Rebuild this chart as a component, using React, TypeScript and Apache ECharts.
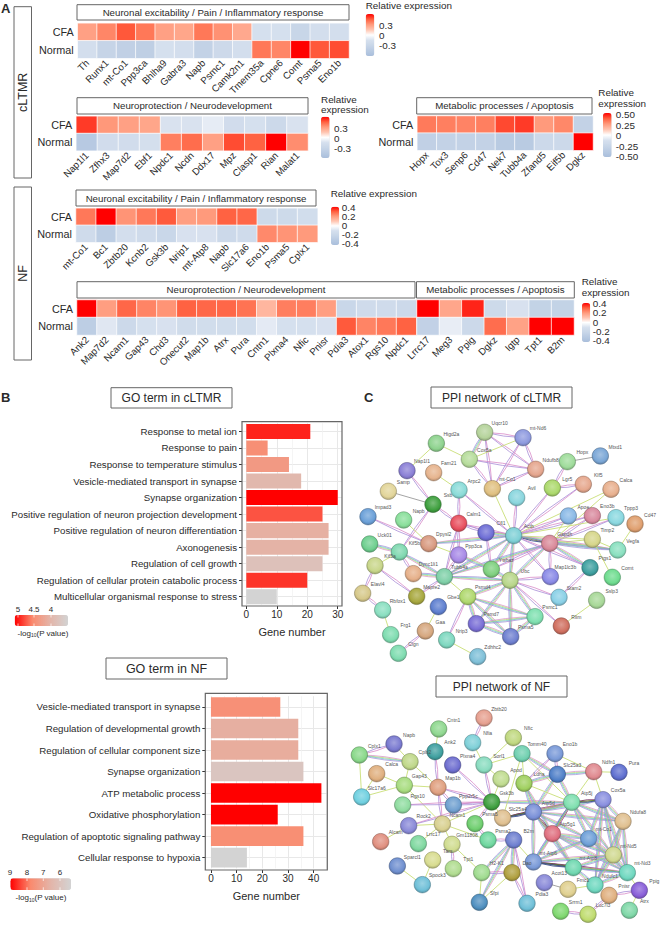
import React, { useEffect, useRef } from "react";
import * as echarts from "echarts";

const FONT = "Liberation Sans";
const INK = "#2a2a2a";

// ---------- Heatmap data ----------
const a1Genes = ["Th","Runx1","mt-Co1","Ppp3ca","Bhlha9","Gabra3","Napb","Psmc1","Camk2n1","Tmem35a","Cpne6","Comt","Psma5","Eno1b"];
const a1Cfa = [0.3,0.38,0.5,0.42,0.3,0.28,0.42,0.35,0.27,-0.17,-0.17,-0.33,-0.2,-0.2];
const a1Normal = [-0.2,-0.35,-0.4,-0.42,-0.17,-0.2,-0.38,-0.27,-0.2,0.42,0.38,0.65,0.5,0.52];

const a2Genes = ["Nap1l1","Zfhx3","Map7d2","Ebf1","Npdc1","Ncdn","Ddx17","Mpz","Clasp1","Rian","Malat1"];
const a2Cfa = [0.55,0.33,0.3,0.28,-0.15,-0.15,-0.1,-0.22,-0.17,-0.28,-0.15];
const a2Normal = [-0.5,-0.22,-0.22,-0.18,0.4,0.45,0.3,0.52,0.48,0.65,0.36];

const a3Genes = ["Hopx","Tox3","Senp6","Cd47","Nek7","Tubb4a","Zfand5","Eif5b","Dgkz"];
const a3Cfa = [0.33,0.32,0.31,0.32,0.42,0.44,0.26,0.3,-0.3];
const a3Normal = [-0.32,-0.3,-0.3,-0.3,-0.38,-0.38,-0.22,-0.22,0.52];

const n1Genes = ["mt-Co1","Bc1","Zbtb20","Kcnb2","Gsk3b","Nrip1","mt-Atp8","Napb","Slc17a6","Eno1b","Psma5","Cplx1"];
const n1Cfa = [0.27,0.42,0.22,0.27,0.32,0.2,0.21,0.31,0.3,-0.17,-0.17,-0.14];
const n1Normal = [-0.16,-0.28,-0.13,-0.16,-0.2,-0.1,-0.1,-0.18,-0.16,0.24,0.22,0.21];

const n2Genes = ["Ank2","Map7d2","Ncam1","Gap43","Chd3","Onecut2","Map1b","Atrx","Pura","Cntn1","Plxna4","Nfic","Pnisr","Pdia3","Atox1","Rgs10","Npdc1"];
const n2Cfa = [0.42,0.2,0.3,0.25,0.22,0.31,0.3,0.3,0.28,0.14,0.26,0.26,0.2,-0.2,-0.16,-0.16,-0.18];
const n2Normal = [-0.28,-0.08,-0.18,-0.11,-0.1,-0.15,-0.14,-0.14,-0.14,-0.07,-0.11,-0.11,-0.1,0.32,0.25,0.27,0.31];

const n3Genes = ["Lrrc17","Meg3","Ppig","Dgkz","Igtp","Tpt1","B2m"];
const n3Cfa = [0.42,0.18,0.38,-0.17,-0.1,-0.24,-0.24];
const n3Normal = [-0.25,-0.06,-0.18,0.29,0.19,0.42,0.42];

const rowNames = ["Normal", "CFA"];

// ---------- GO bar data ----------
const goCltmrTerms = ["Response to metal ion","Response to pain","Response to temperature stimulus","Vesicle-mediated transport in synapse","Synapse organization","Positive regulation of neuron projection development","Positive regulation of neuron differentiation","Axonogenesis","Regulation of cell growth","Regulation of cellular protein catabolic process","Multicellular organismal response to stress"];
const goCltmrGenes = [21,7,14,18,30,25,27,27,25,20,10];
const goCltmrP = [4.97,4.5,4.38,3.98,5.1,4.78,4.1,4.06,3.82,4.9,3.5];

const goNfTerms = ["Vesicle-mediated transport in synapse","Regulation of developmental growth","Regulation of cellular component size","Synapse organization","ATP metabolic process","Oxidative phosphorylation","Regulation of apoptotic signaling pathway","Cellular response to hypoxia"];
const goNfGenes = [27,34,34,36,43,26,36,14];
const goNfP = [7.6,6.73,6.8,5.9,9,9,7.65,5.34];

// ---------- Networks: [name, x, y, colour] in the layout's own units ----------
const cltmrNodes: [string, number, number, string][] = [
["Uqcr10",404,157,"#b5d39b"],["mt-Nd6",519,173,"#8e9adf"],["Higd2a",259,190,"#8ed38e"],["Cox5a",358,238,"#b6dc9b"],["Ndufb8",557,268,"#e5a68e"],["Hopx",652,245,"#9fdc9b"],["Mtxd1",751,228,"#7ba7d6"],["Nap1l1",171,272,"#8b80d6"],["Fam21",251,278,"#e6b48e"],["Arpc2",327,330,"#8adbd8"],["mt-Co1",427,326,"#e0c080"],["Lgr5",607,324,"#acd96c"],["Klf5",700,313,"#e6a88e"],["Calca",783,328,"#e8b08e"],["Samp",115,334,"#e2d59a"],["Ssb",249,373,"#3fa03f"],["Avil",500,353,"#8ad6de"],["Impad3",54,410,"#6ba0d8"],["Napb",161,420,"#8adf9b"],["Calm1",326,430,"#e8505f"],["Cfl1",408,458,"#6f6fd6"],["Actb",491,467,"#7fd0d6"],["Apoe",655,408,"#8ab9e6"],["Eno3b",727,407,"#d98a9e"],["Tppp3",798,413,"#8ad8e0"],["Cd47",855,432,"#e0a070"],["Dpysl2",236,491,"#d89a80"],["Kif5b",148,516,"#80d8b0"],["Ppp3ca",326,525,"#a88ae6"],["Gapdh",599,490,"#d98a9a"],["Timp2",727,478,"#d6d68a"],["Vegfa",803,510,"#8ae0c0"],["Uck01",59,492,"#6fcf8f"],["Kif5a",75,557,"#c8d68a"],["Dync1li1",190,581,"#e6b08a"],["Tubb4a",283,590,"#7fd0a8"],["Ywhaz",424,568,"#7fd07f"],["Ubc",480,601,"#b8d68a"],["Map1lc3b",601,590,"#8a8ae6"],["Ptgs1",720,563,"#3fa0a0"],["Comt",787,592,"#6fdc8f"],["Psmd4",353,650,"#b0d86f"],["Mapre2",200,649,"#a8a83f"],["Elavl4",38,640,"#d6c88a"],["Rbfox1",98,690,"#8adfc0"],["Gbe1",265,680,"#5f80d0"],["Psmd7",379,731,"#7a6fd6"],["Psma5",482,770,"#6f80d0"],["Psmc1",555,710,"#7fe0b0"],["Stam2",627,652,"#8ad0e6"],["Sslp3",740,661,"#a8d898"],["Rlim",634,738,"#d07060"],["Gaa",226,753,"#d6a880"],["Nrip3",290,780,"#7fd8c0"],["Frg1",122,764,"#7fdcb0"],["Clgn",145,820,"#7fdcb0"],["Zdhhc2",383,830,"#7fc0d8"],
];
const cltmrEdges: [string, string, string][] = [
["Uqcr10","Cox5a","m"],["Uqcr10","mt-Co1","p"],["Uqcr10","Ndufb8","p"],["Uqcr10","mt-Nd6","p"],["Cox5a","mt-Nd6","g"],["Cox5a","Ndufb8","p"],["Cox5a","mt-Co1","p"],["mt-Nd6","Ndufb8","p"],["mt-Nd6","mt-Co1","p"],["Ndufb8","mt-Co1","p"],["Higd2a","Cox5a","g"],["Higd2a","Nap1l1","g"],["Hopx","Mtxd1","k"],["Hopx","Lgr5","p"],["Lgr5","Klf5","p"],["Lgr5","Actb","p"],["Klf5","Actb","p"],["Calca","Actb","g"],["Calca","Gapdh","g"],["Fam21","Arpc2","g"],["Nap1l1","Ssb","p"],["Samp","Ssb","k"],["Ssb","Calm1","p"],["Ssb","Kif5b","p"],["Arpc2","Calm1","p"],["Arpc2","Actb","p"],["Calm1","Ppp3ca","p"],["Calm1","Cfl1","p"],["Calm1","Actb","p"],["Calm1","Tubb4a","p"],["Impad3","Dpysl2","p"],["Napb","Dpysl2","g"],["Dpysl2","Actb","m"],["Dpysl2","Ppp3ca","g"],["Cfl1","Actb","m"],["Cfl1","Ywhaz","p"],["Actb","Gapdh","d"],["Actb","Ubc","m"],["Actb","Ywhaz","m"],["Actb","Tubb4a","m"],["Actb","Avil","p"],["Actb","mt-Co1","g"],["Actb","Apoe","p"],["Actb","Eno3b","p"],["Actb","Map1lc3b","p"],["Gapdh","Apoe","g"],["Gapdh","Eno3b","p"],["Gapdh","Tppp3","p"],["Gapdh","Timp2","g"],["Gapdh","Vegfa","m"],["Gapdh","Ubc","m"],["Gapdh","Tubb4a","m"],["Gapdh","Map1lc3b","p"],["Gapdh","Ptgs1","m"],["Gapdh","Ywhaz","p"],["Actb","Timp2","g"],["Actb","Vegfa","m"],["Actb","Ptgs1","p"],["Timp2","Vegfa","g"],["Tppp3","Actb","g"],["Cd47","Vegfa","g"],["Timp2","Comt","g"],["Ptgs1","Stam2","p"],["Ubc","Ywhaz","m"],["Ubc","Map1lc3b","p"],["Ubc","Stam2","p"],["Ubc","Psmd4","m"],["Ubc","Psmd7","m"],["Ubc","Psma5","m"],["Ubc","Psmc1","m"],["Ubc","Rlim","p"],["Ubc","Tubb4a","m"],["Psmd4","Psmd7","m"],["Psmd4","Psma5","m"],["Psmd4","Psmc1","m"],["Psmd7","Psma5","m"],["Psmd7","Psmc1","m"],["Psma5","Psmc1","m"],["Psmd4","Tubb4a","g"],["Gbe1","Gaa","g"],["Psmd4","Nrip3","p"],["Sslp3","Rlim","g"],["Nrip3","Zdhhc2","g"],["Ppp3ca","Ywhaz","m"],["Tubb4a","Dync1li1","m"],["Tubb4a","Kif5b","m"],["Tubb4a","Mapre2","p"],["Tubb4a","Ppp3ca","p"],["Kif5b","Dync1li1","p"],["Kif5b","Uck01","m"],["Kif5a","Kif5b","g"],["Kif5a","Mapre2","p"],["Kif5a","Elavl4","p"],["Elavl4","Rbfox1","p"],["Rbfox1","Frg1","g"],["Gaa","Clgn","p"],
];

const nfNodes: [string, number, number, string][] = [
["Zbtb20",402,174,"#e6a090"],["Cntn1",266,207,"#90d890"],["Nfia",368,248,"#7fd0d8"],["Nfic",490,233,"#c0d880"],["Napb",132,252,"#7a7ad0"],["Ank2",255,275,"#40a0a0"],["Cplx1",28,285,"#8ad88a"],["Cplx2",180,305,"#c0d88a"],["Tomm40",516,281,"#70d0b0"],["Eno1b",615,281,"#7a9ad8"],["Plxna4",308,315,"#6f6fd0"],["Sorl1",402,315,"#8adcc0"],["Ndfn1",731,335,"#e08a90"],["Pura",807,337,"#6070d0"],["Calca",80,341,"#e0b080"],["Slc25a3",622,343,"#5080c8"],["Apod",453,357,"#c0dc90"],["Ldha",522,370,"#a0d060"],["Gap43",163,376,"#a8dc80"],["Map1b",264,382,"#e0a080"],["Slc17a6",35,411,"#70d0e0"],["Rgs10",158,435,"#90dca0"],["Ppp2r5c",310,435,"#70a0d0"],["Gsk3b",425,426,"#40a040"],["Atp5d",550,456,"#7a90d8"],["Atp5j",665,427,"#80e0b0"],["Cox5a",759,419,"#8a90e0"],["Slc25a4",458,474,"#e0c090"],["Ndufa8",819,484,"#e0c090"],["Psma5",375,491,"#70cf70"],["Rock2",176,497,"#8a8ad8"],["Ncam1",277,492,"#d8d090"],["Atp5g1",607,521,"#e07080"],["Psma2",414,540,"#70d8a0"],["B2m",491,540,"#6f80d0"],["mt-Co1",716,536,"#6fa0d8"],["Alcam",92,545,"#e09080"],["Lrrc17",205,551,"#80d8a0"],["Gm11808",306,553,"#d0dc90"],["Tars",248,600,"#d8dc90"],["mt-Nd5",790,585,"#d0d890"],["mt-Atp6",550,606,"#7a9ad8"],["Sparcl1",142,618,"#7090d0"],["Tpt1",310,626,"#b0dc90"],["mt-Atp8",670,623,"#70d8b0"],["mt-Nd3",832,638,"#70d8c0"],["H2-K1",395,638,"#a0dc90"],["Dao",486,638,"#b0a040"],["Spock3",217,674,"#70c0d8"],["Acot13",583,668,"#8a8ad8"],["Fmc1",654,688,"#e0d090"],["Ndufc1",735,675,"#70d8c0"],["Ppig",868,691,"#8a60d8"],["Pnisr",777,706,"#e0b080"],["Sfpi",388,727,"#5090c0"],["Pdia3",531,730,"#70c0d8"],["Atrx",838,751,"#80d8a8"],["Srrm1",632,754,"#80d870"],["Luc7l3",714,763,"#c0dc70"],
];
const nfEdges: [string, string, string][] = [
["Zbtb20","Nfia","p"],["Nfia","Sorl1","g"],["Sorl1","Gsk3b","p"],["Sorl1","Apod","g"],["Sorl1","Nfic","g"],["Sorl1","Tomm40","g"],["Cntn1","Ank2","g"],["Ank2","Map1b","p"],["Napb","Cplx1","p"],["Napb","Cplx2","g"],["Cplx1","Cplx2","m"],["Cplx1","Slc17a6","g"],["Cplx2","Map1b","g"],["Cplx2","Gap43","g"],["Calca","Gap43","g"],["Calca","Slc17a6","g"],["Slc17a6","Gap43","g"],["Gap43","Map1b","g"],["Gap43","Ncam1","g"],["Map1b","Ncam1","p"],["Map1b","Gsk3b","p"],["Map1b","Ppp2r5c","p"],["Rgs10","Gsk3b","p"],["Ppp2r5c","Gsk3b","p"],["Plxna4","Gsk3b","p"],["Rock2","Gsk3b","p"],["Rock2","Ncam1","g"],["Ncam1","Gsk3b","g"],["Ncam1","Lrrc17","g"],["Ncam1","Psma2","g"],["Alcam","Rock2","g"],["Ncam1","Gm11808","g"],["Gm11808","Tpt1","p"],["Gm11808","H2-K1","g"],["Psma5","Psma2","p"],["Psma5","Gsk3b","p"],["Psma2","B2m","p"],["B2m","H2-K1","m"],["B2m","Dao","m"],["B2m","Sfpi","m"],["B2m","Pdia3","p"],["B2m","mt-Atp6","g"],["H2-K1","Sfpi","g"],["H2-K1","Dao","p"],["Dao","Sfpi","g"],["Dao","Pdia3","p"],["Sparcl1","Spock3","g"],["Tars","Spock3","g"],["Gsk3b","Apod","g"],["Gsk3b","Slc25a4","g"],["Gsk3b","Atp5j","m"],["Tomm40","Ldha","g"],["Tomm40","Slc25a3","m"],["Tomm40","Atp5j","g"],["Tomm40","Slc25a4","g"],["Eno1b","Slc25a3","p"],["Eno1b","Ndfn1","g"],["Eno1b","Ldha","p"],["Slc25a3","Ndfn1","m"],["Ndfn1","Pura","g"],["Ndfn1","Cox5a","g"],["Ndfn1","Atp5j","g"],["Slc25a3","Atp5j","m"],["Slc25a3","Ldha","m"],["Slc25a3","Atp5d","m"],["Ldha","Atp5j","g"],["Ldha","Atp5d","m"],["Ldha","Atp5g1","m"],["Slc25a4","Atp5d","d"],["Slc25a4","Atp5j","d"],["Atp5d","Atp5j","m"],["Atp5d","Cox5a","m"],["Atp5d","Ndufa8","m"],["Atp5d","Atp5g1","d"],["Atp5d","mt-Co1","m"],["Atp5d","mt-Atp6","m"],["Atp5d","mt-Atp8","m"],["Atp5j","Cox5a","d"],["Atp5j","Ndufa8","m"],["Atp5j","Atp5g1","d"],["Atp5j","mt-Co1","m"],["Atp5j","mt-Atp6","m"],["Atp5j","mt-Nd5","m"],["Cox5a","Ndufa8","m"],["Cox5a","mt-Co1","m"],["Cox5a","mt-Nd5","m"],["Cox5a","mt-Nd3","m"],["Cox5a","Ndufc1","m"],["Ndufa8","mt-Nd5","m"],["Ndufa8","mt-Nd3","m"],["Ndufa8","Ndufc1","m"],["Atp5g1","mt-Co1","m"],["Atp5g1","mt-Atp6","m"],["Atp5g1","mt-Atp8","m"],["Atp5g1","mt-Nd5","m"],["Atp5g1","mt-Nd3","m"],["mt-Co1","mt-Nd5","m"],["mt-Co1","mt-Nd3","m"],["mt-Co1","mt-Atp6","m"],["mt-Atp6","mt-Atp8","d"],["mt-Atp6","mt-Nd3","d"],["mt-Atp8","mt-Nd3","m"],["mt-Atp8","mt-Nd5","m"],["mt-Nd5","mt-Nd3","m"],["mt-Nd5","Ndufc1","m"],["mt-Nd3","Ndufc1","m"],["mt-Nd3","Ppig","g"],["mt-Atp6","mt-Nd5","m"],["Ndufc1","mt-Atp8","m"],["Fmc1","Ndufc1","g"],["Acot13","Fmc1","k"],["Ppig","Atrx","g"],["Ppig","Pnisr","p"],["Pnisr","Luc7l3","p"],["Srrm1","Luc7l3","p"],
];

// ---------- Helpers ----------
const HEAT = ["#a9bedc", "#b8cae2", "#c8d6e8", "#d6e0ee", "#ffffff", "#ffc4b0", "#ff9a7c", "#ff5f3f", "#ff0000"];
const PVAL = ["#d3d3d3", "#e3b5a9", "#fa8a6e", "#ff0000"];

const grids: any[] = [];
const xAxes: any[] = [];
const yAxes: any[] = [];
const series: any[] = [];
const visualMaps: any[] = [];
const graphics: any[] = [];

function text(t: string, x: number, y: number, size = 10, align = "left", extra: any = {}) {
  graphics.push({
    type: "text", x, y, z: 20, rotation: extra.rotation || 0, silent: true,
    style: { text: t, fill: INK, fontSize: size, fontFamily: FONT, fontWeight: extra.weight || "normal", textAlign: align, textVerticalAlign: "middle", verticalAlign: "middle", rich: extra.rich },
  });
}
function box(x0: number, y0: number, x1: number, y1: number, label: string, size = 11, rotated = false) {
  graphics.push({ type: "rect", shape: { x: x0, y: y0, width: x1 - x0, height: y1 - y0 }, z: 1, silent: true, style: { fill: "#fff", stroke: "#666", lineWidth: 1 } });
  text(label, (x0 + x1) / 2, (y0 + y1) / 2, size, "center", rotated ? { rotation: Math.PI / 2 } : {});
}
function vTick(x: number, y0: number, y1: number) {
  graphics.push({ type: "line", z: 16, silent: true, shape: { x1: x, y1: y0, x2: x, y2: y1 }, style: { stroke: "#fff", lineWidth: 0.7 } });
}

function heat(genes: string[], cfa: number[], normal: number[], x0: number, x1: number, y0: number, y1: number, showRows = true) {
  const g = grids.length;
  grids.push({ left: x0, top: y0, width: x1 - x0, height: y1 - y0 });
  xAxes.push({ type: "category", gridIndex: g, data: genes, axisLine: { show: false }, axisTick: { show: false },
    axisLabel: { interval: 0, rotate: 45, fontSize: 9.7, margin: 3, color: INK, fontFamily: FONT }, splitLine: { show: false } });
  yAxes.push({ type: "category", gridIndex: g, data: rowNames, axisLine: { show: false }, axisTick: { show: false },
    axisLabel: { show: showRows, fontSize: 10.8, margin: 4, color: INK, fontFamily: FONT }, splitLine: { show: false } });
  const data: number[][] = [];
  genes.forEach((_, i) => { data.push([i, 1, cfa[i]]); data.push([i, 0, normal[i]]); });
  series.push({ type: "heatmap", xAxisIndex: g, yAxisIndex: g, data, itemStyle: { borderColor: "#fff", borderWidth: 0.7 }, silent: true });
  return series.length - 1;
}
function heatLegend(seriesIndex: number[], range: number, x: number, y0: number, y1: number, w: number) {
  visualMaps.push({ type: "continuous", seriesIndex, dimension: 2, min: -range, max: range, show: true, left: x, top: y0, itemWidth: w, itemHeight: y1 - y0, calculable: false, text: ["", ""], showLabel: false, padding: 0, inRange: { color: HEAT } });
}

function bars(terms: string[], genes: number[], p: number[], gx0: number, gx1: number, top: number, bottom: number, min: number, max: number, major: number[], minor: number[], pmin: number, pmax: number, panelTop: number, panelBottom: number, lx: number, ly: number, lw: number, lh: number) {
  const g = grids.length;
  grids.push({ left: gx0, top, width: gx1 - gx0, height: bottom - top });
  const idx = xAxes.length;
  xAxes.push({ type: "value", gridIndex: g, min, max, position: "bottom", offset: panelBottom - bottom,
    name: "Gene number", nameLocation: "middle", nameGap: 20, nameTextStyle: { fontSize: 11, color: INK, fontFamily: FONT },
    axisLine: { show: false, onZero: false }, axisTick: { show: true, length: 3, customValues: major, lineStyle: { color: "#333" } },
    axisLabel: { customValues: major, fontSize: 10, color: INK, margin: 3, fontFamily: FONT, formatter: (v: number) => String(v) },
    splitLine: { show: true, lineStyle: { color: "#e8e8e8", width: 1 } } });
  xAxes.push({ type: "value", gridIndex: g, min, max, position: "top", axisLine: { show: false, onZero: false }, axisTick: { show: false, customValues: minor }, axisLabel: { show: false },
    splitLine: { show: true, lineStyle: { color: "#f1f1f1", width: 0.7 } } });
  yAxes.push({ type: "category", gridIndex: g, data: terms, inverse: true, axisLine: { show: false, onZero: false }, axisTick: { show: true, length: 3, alignWithLabel: true, lineStyle: { color: "#333" } },
    axisLabel: { interval: 0, fontSize: 9.7, color: INK, margin: 5, fontFamily: FONT },
    splitLine: { show: true, alignWithLabel: true, lineStyle: { color: "#e8e8e8", width: 1 } } });
  series.push({ type: "bar", xAxisIndex: idx, yAxisIndex: g, barCategoryGap: "9%", encode: { x: 0, y: 1 }, silent: true,
    data: terms.map((t, i) => [genes[i], t, p[i]]) });
  visualMaps.push({ type: "continuous", seriesIndex: series.length - 1, dimension: 2, min: pmin, max: pmax, show: true, orient: "horizontal", inverse: true, left: lx, top: ly, itemWidth: lh, itemHeight: lw, calculable: false, text: ["", ""], showLabel: false, padding: 0, inRange: { color: PVAL } });
  graphics.push({ type: "rect", z: 15, silent: true, shape: { x: gx0, y: panelTop, width: gx1 - gx0, height: panelBottom - panelTop }, style: { fill: "none", stroke: "#666", lineWidth: 1.2 } });
}

const shade = (hex: string, f: number) => {
  const n = parseInt(hex.slice(1), 16);
  const c = [(n >> 16) & 255, (n >> 8) & 255, n & 255].map((v) => Math.round(f >= 0 ? v + (255 - v) * f : v * (1 + f)));
  return `rgb(${c[0]},${c[1]},${c[2]})`;
};
// Each evidence kind is a bundle of thin parallel strands: [colour, width, sideways offset in px]
const STRANDS: any = {
  m: [["#d68ac8", 0.8, 1.6], ["#b4d268", 0.8, 0.55], ["#66c6c6", 0.8, -0.55], ["#a08cd6", 0.8, -1.6]],
  p: [["#d98cc8", 0.9, 1.1], ["#a98ed8", 0.9, -1.1]],
  d: [["#7a3468", 1, 1.2], ["#62861f", 1, 0], ["#3f4f90", 1, -1.2]],
  g: [["#cadf78", 1, 0]],
  k: [["#808080", 0.8, 0]],
};

function network(nodes: [string, number, number, string][], edges: [string, string, string][], left: number, top: number, width: number, height: number, xMax: number, yMax: number) {
  const g = grids.length;
  grids.push({ left, top, width, height });
  xAxes.push({ type: "value", gridIndex: g, min: 0, max: xMax, show: false });
  yAxes.push({ type: "value", gridIndex: g, min: 0, max: yMax, inverse: true, show: false });
  const common = { type: "graph", coordinateSystem: "cartesian2d", xAxisIndex: xAxes.length - 1, yAxisIndex: g, silent: true, roam: false, edgeSymbol: ["none", "none"] };
  const where = new Map(nodes.map((n) => [n[0], n]));
  const links: any[] = [];
  edges.forEach((e) => {
    const a = where.get(e[0])!, b = where.get(e[1])!;
    const px = Math.hypot(a[1] - b[1], a[2] - b[2]) * (width / xMax);
    STRANDS[e[2]].forEach((s: any) => links.push({ source: e[0], target: e[1], lineStyle: { color: s[0], width: s[1], opacity: 0.9, curveness: (2 * s[2]) / px } }));
  });
  series.push({ ...common, z: 3, symbolSize: 1, itemStyle: { opacity: 0 }, label: { show: false },
    data: nodes.map((n) => ({ name: n[0], value: [n[1], n[2]] })), links });
  series.push({ ...common, z: 4, symbolSize: 16.5,
    label: { show: true, position: "top", distance: 0, offset: [15, 1.5], fontSize: 5, color: "#555", fontFamily: FONT },
    data: nodes.map((n) => ({ name: n[0], value: [n[1], n[2]],
      itemStyle: { borderColor: shade(n[3], -0.4), borderWidth: 0.5,
        color: { type: "radial", x: 0.5, y: 0.42, r: 0.6, colorStops: [{ offset: 0, color: shade(n[3], 0.3) }, { offset: 0.7, color: n[3] }, { offset: 1, color: shade(n[3], -0.25) }] } } })),
    links: [] });
}

function buildOption() {
  // Panel A
  box(14, 6.7, 31.5, 178, "cLTMR", 12.5, true);
  box(14, 187, 31.5, 360, "NF", 12.5, true);
  text("A", 1, 8, 13, "left", { weight: "bold" });
  box(77, 4.7, 349, 20, "Neuronal excitability / Pain / Inflammatory response", 9.7);
  box(77, 97.7, 308, 114, "Neuroprotection / Neurodevelopment", 9.7);
  box(416.7, 97.7, 592, 114, "Metabolic processes / Apoptosis", 9.7);
  box(76, 190, 316, 206, "Neuronal excitability / Pain / Inflammatory response", 9.7);
  box(77, 281.7, 415, 298, "Neuroprotection / Neurodevelopment", 9.7);
  box(416.5, 281.7, 574.3, 298, "Metabolic processes / Apoptosis", 9.7);

  const s1 = heat(a1Genes, a1Cfa, a1Normal, 77.7, 349, 23.3, 58.3);
  heatLegend([s1], 0.65, 365.7, 14, 56, 8.6);
  text("Relative expression", 365.7, 5, 9.9);
  [["0.3", 25.7], ["0", 35], ["-0.3", 45.5]].forEach(([t, y]) => text(t as string, 379, y as number, 9.9));

  const s2 = heat(a2Genes, a2Cfa, a2Normal, 76.3, 308, 116.3, 150.7);
  heatLegend([s2], 0.65, 321, 116.7, 158, 8.6);
  text("Relative", 321, 99.3, 9.9); text("expression", 321, 109, 9.9);
  [["0.3", 128], ["0", 138], ["-0.3", 148]].forEach(([t, y]) => text(t as string, 334, y as number, 9.9));

  const s3 = heat(a3Genes, a3Cfa, a3Normal, 417.3, 593, 116, 150.3);
  heatLegend([s3], 0.52, 603, 113, 157, 8.6);
  text("Relative", 598.3, 92, 9.9); text("expression", 598.3, 103.7, 9.9);
  [["0.50", 114], ["0.25", 125], ["0", 135], ["-0.25", 146], ["-0.50", 156]].forEach(([t, y]) => text(t as string, 615.7, y as number, 9.9));

  const s4 = heat(n1Genes, n1Cfa, n1Normal, 76, 317.7, 208.3, 242.3);
  heatLegend([s4], 0.42, 331, 206.7, 245, 8.2);
  text("Relative expression", 330.7, 193.7, 9.9);
  [["0.4", 207], ["0.2", 216], ["0", 225.3], ["-0.2", 234], ["-0.4", 243.5]].forEach(([t, y]) => text(t as string, 341.7, y as number, 9.9));

  const s5 = heat(n2Genes, n2Cfa, n2Normal, 77, 416.5, 300, 335);
  const s6 = heat(n3Genes, n3Cfa, n3Normal, 417, 574, 300, 335, false);
  heatLegend([s5, s6], 0.42, 582, 303, 342, 8.2);
  text("Relative", 581.7, 281, 9.9); text("expression", 581.7, 292.7, 9.9);
  [["0.4", 303], ["0.2", 312.7], ["0", 322], ["-0.2", 331], ["-0.4", 340]].forEach(([t, y]) => text(t as string, 592.7, y as number, 9.9));

  // Panel B
  text("B", 1, 397, 13, "left", { weight: "bold" });
  box(111, 387.7, 232, 408, "GO term in cLTMR", 12);
  box(106, 658, 227, 679, "GO term in NF", 12.5);
  bars(goCltmrTerms, goCltmrGenes, goCltmrP, 242, 342, 423.2, 605, -1.41, 31.4, [0, 10, 20, 30], [5, 15, 25], 3.5, 5.1, 421.7, 606, 14.7, 615, 53.3, 11);
  [["5", 18], ["4.5", 34], ["4", 51]].forEach(([t, x]) => { text(t as string, x as number, 609, 8, "center"); vTick(x as number, 615, 617.5); vTick(x as number, 623.5, 626); });
  const sub = { s: { fontSize: 5, fontFamily: FONT, fill: INK, verticalAlign: "bottom", padding: [4, 0, 0, 0] } };
  text("-log{s|10}(P value)", 43, 633, 8, "center", { rich: sub });

  bars(goNfTerms, goNfGenes, goNfP, 205.3, 327.3, 696.2, 868.4, -2.2, 45.3, [0, 10, 20, 30, 40], [5, 15, 25, 35, 45], 5.34, 9, 693.3, 870, 10.3, 878.3, 60.7, 11.7);
  [["9", 10], ["8", 27], ["7", 43.3], ["6", 60]].forEach(([t, x]) => { text(t as string, x as number, 872, 8, "center"); vTick(x as number, 878.3, 881); vTick(x as number, 887.3, 890); });
  text("-log{s|10}(P value)", 41, 897.7, 8, "center", { rich: sub });

  // Panel C
  text("C", 364, 397, 13, "left", { weight: "bold" });
  box(431, 387, 572, 408, "PPI network of cLTMR", 12);
  box(436, 676, 567, 697, "PPI network of NF", 12);
  network(cltmrNodes, cltmrEdges, 350, 380, 310, 280, 930, 840);
  network(nfNodes, nfEdges, 350, 660, 310, 265, 930, 795);

  return {
    animation: false,
    backgroundColor: "#fff",
    textStyle: { fontFamily: FONT },
    grid: grids, xAxis: xAxes, yAxis: yAxes, series, visualMap: visualMaps, graphic: { elements: graphics },
  };
}

const option = buildOption();

export default function App() {
  const ref = useRef<HTMLDivElement>(null);
  useEffect(() => {
    document.body.style.margin = "0";
    const chart = echarts.init(ref.current!, undefined, { renderer: "svg" });
    chart.setOption(option);
    return () => chart.dispose();
  }, []);
  return <div ref={ref} style={{ width: 660, height: 925 }} />;
}
